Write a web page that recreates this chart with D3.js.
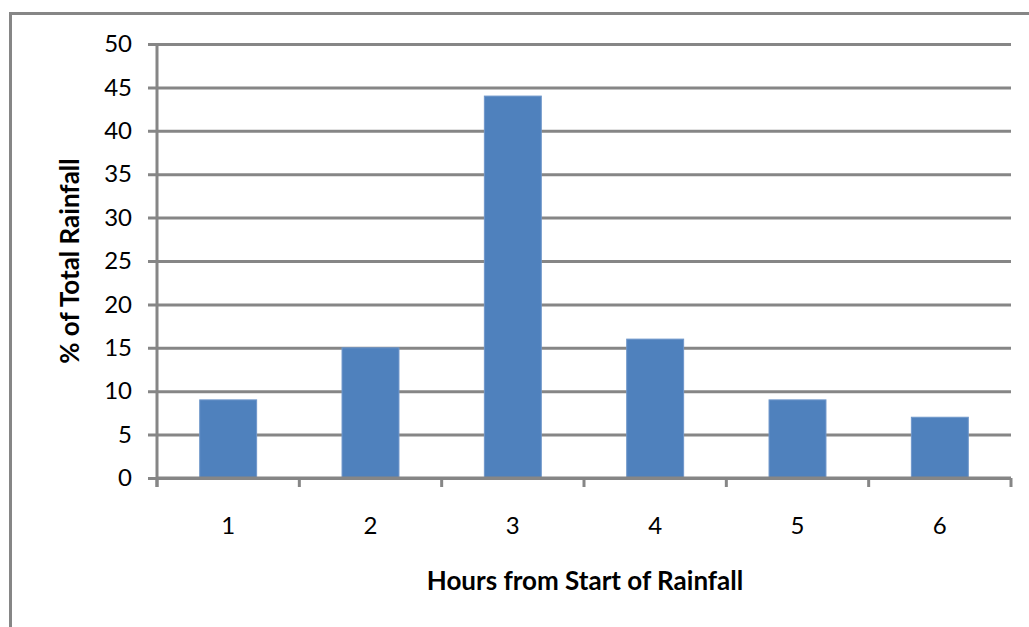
<!DOCTYPE html>
<html>
<head>
<meta charset="utf-8">
<script src="https://cdn.jsdelivr.net/npm/d3@7"></script>
<style>
  html, body { margin: 0; padding: 0; background: #fff; }
  svg { display: block; }
  text { font-family: Lato, "Open Sans", sans-serif; fill: #000; }
</style>
</head>
<body>
<svg id="chart" width="1029" height="627"></svg>
<script>
// Hourly share of a storm's total rainfall
const hours = ["1", "2", "3", "4", "5", "6"];
const rainfallPct = [9, 15, 44, 16, 9, 7];
const yTicks = [0, 5, 10, 15, 20, 25, 30, 35, 40, 45, 50];
const xTitle = "Hours from Start of Rainfall";
const yTitle = "% of Total Rainfall";

const svg = d3.select("#chart");
const gridColor = "#868686";
const plot = { left: 157, right: 1011, top: 44, bottom: 478 };

// Outer chart frame (runs past the right and bottom edges)
svg.append("rect")
  .attr("x", 10.5).attr("y", 13.5)
  .attr("width", 1100).attr("height", 700)
  .attr("fill", "none")
  .attr("stroke", gridColor)
  .attr("stroke-width", 3);

const x = d3.scaleBand()
  .domain(hours)
  .range([plot.left, plot.right])
  .paddingInner(0.6)
  .paddingOuter(0.3);

const y = d3.scaleLinear()
  .domain([0, 50])
  .range([plot.bottom, plot.top]);

// Horizontal gridlines with left tick stubs
const yAxis = svg.append("g")
  .attr("transform", `translate(${plot.left},0)`)
  .call(d3.axisLeft(y)
    .tickValues(yTicks)
    .tickSize(-(plot.right - plot.left))
    .tickPadding(25)
    .tickSizeOuter(0));
yAxis.select(".domain").remove();
yAxis.selectAll(".tick line")
  .attr("x1", -9)
  .attr("stroke", gridColor)
  .attr("stroke-width", 3);
yAxis.selectAll(".tick text")
  .style("font-size", "24px")
  .attr("fill", "#000");

// Vertical value axis line
svg.append("line")
  .attr("x1", plot.left).attr("x2", plot.left)
  .attr("y1", plot.top - 1).attr("y2", plot.bottom + 9)
  .attr("stroke", gridColor)
  .attr("stroke-width", 3);

// Bars
svg.append("g")
  .selectAll("rect")
  .data(rainfallPct)
  .join("rect")
  .attr("x", (d, i) => x(hours[i]))
  .attr("y", d => y(d))
  .attr("width", x.bandwidth())
  .attr("height", d => y(0) - y(d))
  .attr("fill", "#4F81BD")
  .attr("stroke", "#6F97CA")
  .attr("stroke-width", 1);

// Category axis: baseline with ticks at band boundaries
const bounds = hours.map(h => x(h) - x.step() * x.paddingInner() / 2);
bounds[0] = plot.left;
bounds.push(plot.right);
const xg = svg.append("g");
xg.append("line")
  .attr("x1", plot.left).attr("x2", plot.right)
  .attr("y1", y(0)).attr("y2", y(0))
  .attr("stroke", gridColor)
  .attr("stroke-width", 3);
xg.selectAll("line.tk")
  .data(bounds)
  .join("line")
  .attr("class", "tk")
  .attr("x1", d => d).attr("x2", d => d)
  .attr("y1", y(0)).attr("y2", y(0) + 9)
  .attr("stroke", gridColor)
  .attr("stroke-width", 3);
xg.selectAll("text")
  .data(hours)
  .join("text")
  .attr("x", d => x(d) + x.bandwidth() / 2)
  .attr("y", 534)
  .attr("text-anchor", "middle")
  .style("font-size", "24px")
  .text(d => d);

// Axis titles
svg.append("text")
  .attr("x", 585)
  .attr("y", 590)
  .attr("text-anchor", "middle")
  .style("font-size", "26px")
  .style("font-weight", "bold")
  .text(xTitle);

svg.append("text")
  .attr("transform", `translate(79,${(plot.top + plot.bottom) / 2}) rotate(-90)`)
  .attr("text-anchor", "middle")
  .style("font-size", "26px")
  .style("font-weight", "bold")
  .text(yTitle);
</script>
</body>
</html>
